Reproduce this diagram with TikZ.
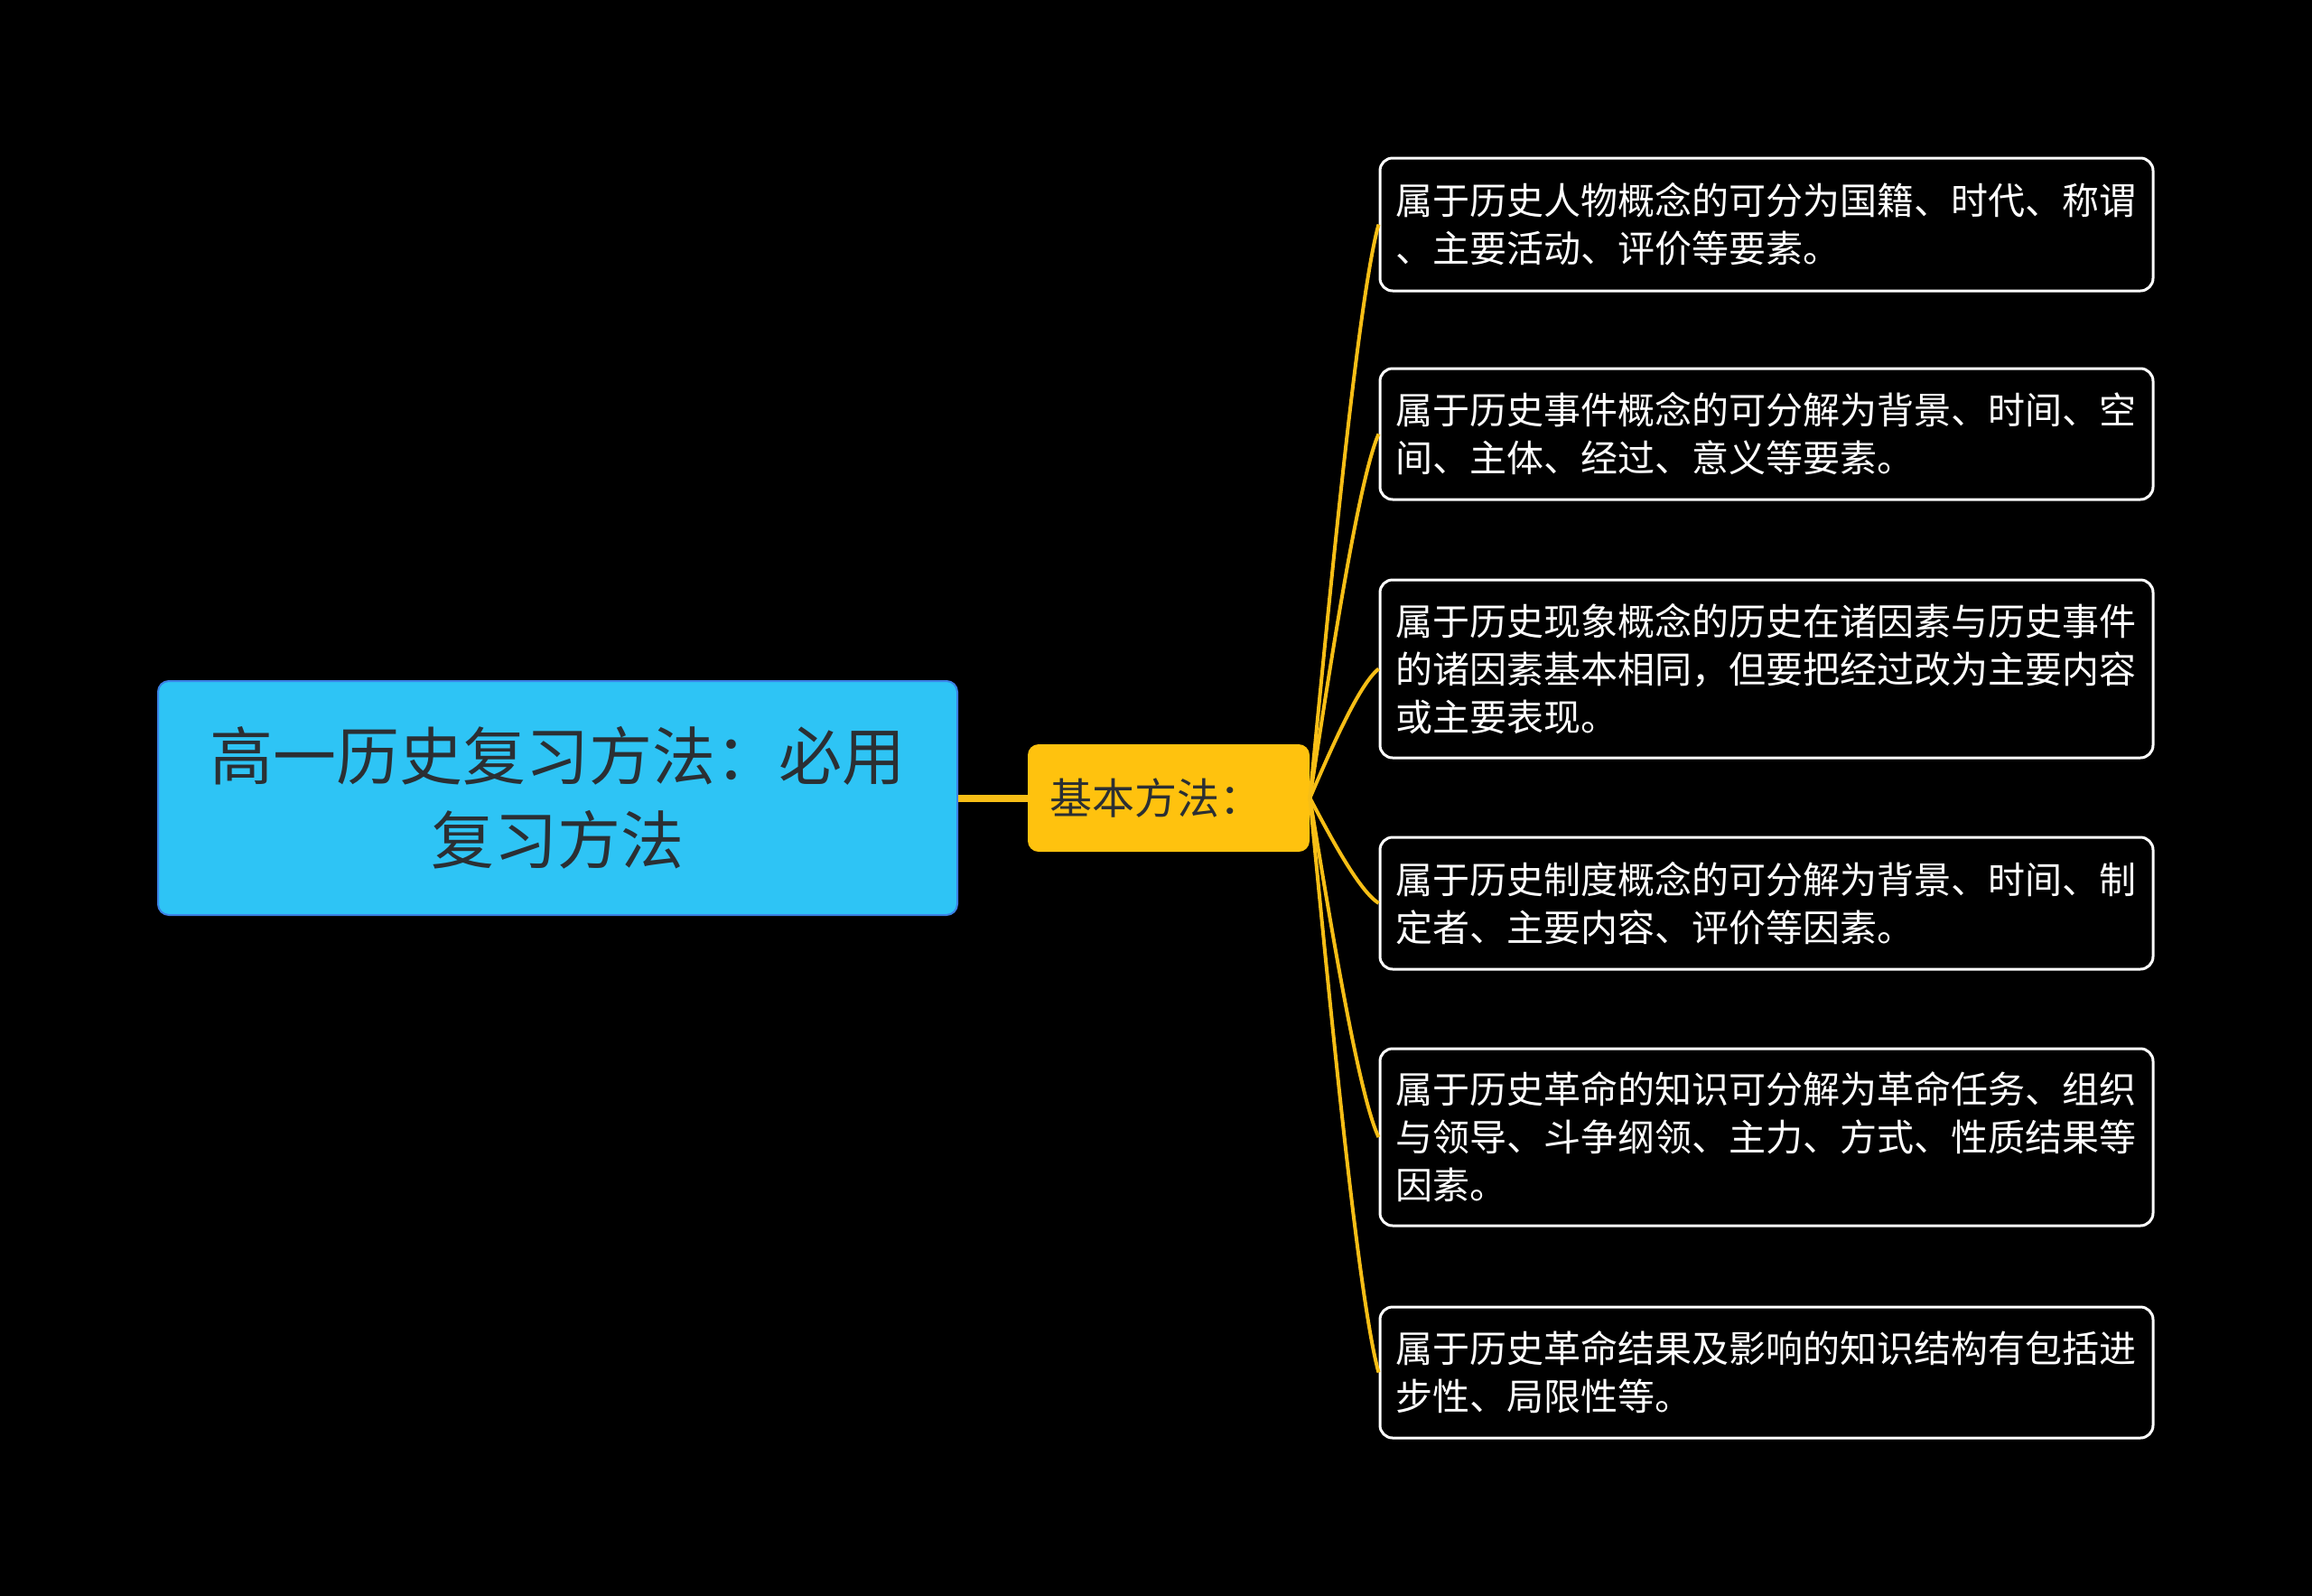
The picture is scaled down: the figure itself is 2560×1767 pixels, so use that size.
\documentclass[tikz,border=0pt]{standalone}
\usepackage{fontspec}
\setmainfont{Noto Sans CJK SC}
\definecolor{bgc}{HTML}{000000}
\definecolor{rootfill}{HTML}{2EC4F5}
\definecolor{rootdraw}{HTML}{3B82E6}
\definecolor{roottext}{HTML}{2B2F33}
\definecolor{kbfill}{HTML}{FFC20E}
\definecolor{linec}{HTML}{F7BE16}
\begin{document}
\begin{tikzpicture}[x=0.5pt,y=-0.5pt,
  rootbox/.style={draw=rootdraw, line width=1pt, fill=rootfill, rounded corners=6pt,
    minimum width=442.5pt, minimum height=129.5pt, align=center, text=roottext,
    font=\fontsize{35pt}{46.5pt}\selectfont, inner sep=0pt},
  kbbox/.style={fill=kbfill, rounded corners=6pt, minimum width=156pt, minimum height=59.5pt,
    text width=132pt, align=left, inner xsep=12pt, inner ysep=0pt, text=roottext,
    font=\fontsize{23.5pt}{30pt}\selectfont},
  leafbox/.style={draw=white, line width=1.5pt, fill=black, rounded corners=7pt,
    minimum width=428pt, text width=411pt, inner xsep=8.5pt, inner ysep=0pt, align=left,
    text=white, font=\fontsize{20.5pt}{26.5pt}\selectfont},
  trunk/.style={draw=linec, line width=4pt},
  branch/.style={draw=linec, line width=2pt}]
\fill[bgc] (0,0) rectangle (2560,1767);
\useasboundingbox (0,0) rectangle (2560,1767);

\node[rootbox] (root) at (617.5,883.5) {高一历史复习方法：必用\\复习方法};
\node[kbbox] (kb) at (1294,883.5) {基本方法：};

\node[leafbox, minimum height=73.5pt] (n1) at (1956,248.5) {属于历史人物概念的可分为国籍、时代、称谓\\、主要活动、评价等要素。};
\node[leafbox, minimum height=72.5pt] (n2) at (1956,480.5) {属于历史事件概念的可分解为背景、时间、空\\间、主体、经过、意义等要素。};
\node[leafbox, minimum height=98.5pt] (n3) at (1956,740.5) {属于历史现象概念的历史在诸因素与历史事件\\的诸因素基本相同，但要把经过改为主要内容\\或主要表现。};
\node[leafbox, minimum height=73pt] (n4) at (1956,1000) {属于历史制度概念的可分解为背景、时间、制\\定者、主要内容、评价等因素。};
\node[leafbox, minimum height=98pt] (n5) at (1956,1259) {属于历史革命的知识可分解为革命任务、组织\\与领导、斗争纲领、主力、方式、性质结果等\\因素。};
\node[leafbox, minimum height=72.5pt] (n6) at (1956,1519.5) {属于历史革命结果及影响的知识结构有包括进\\步性、局限性等。};

\draw[trunk] (root.east) -- (kb.west);

% controls: C1 = (x0+25, y0+0.4 dy), C2 = (x1-22, y1-0.12 dy)
\draw[branch] (kb.east) .. controls (1475,629.5) and (1505,324.7) .. (n1.west);
\draw[branch] (kb.east) .. controls (1475,722.3) and (1505,528.9) .. (n2.west);
\draw[branch] (kb.east) .. controls (1475,826.3) and (1505,757.7) .. (n3.west);
\draw[branch] (kb.east) .. controls (1475,930.1) and (1505,986.0) .. (n4.west);
\draw[branch] (kb.east) .. controls (1475,1033.7) and (1505,1214.0) .. (n5.west);
\draw[branch] (kb.east) .. controls (1475,1137.9) and (1505,1443.2) .. (n6.west);
\end{tikzpicture}
\end{document}
